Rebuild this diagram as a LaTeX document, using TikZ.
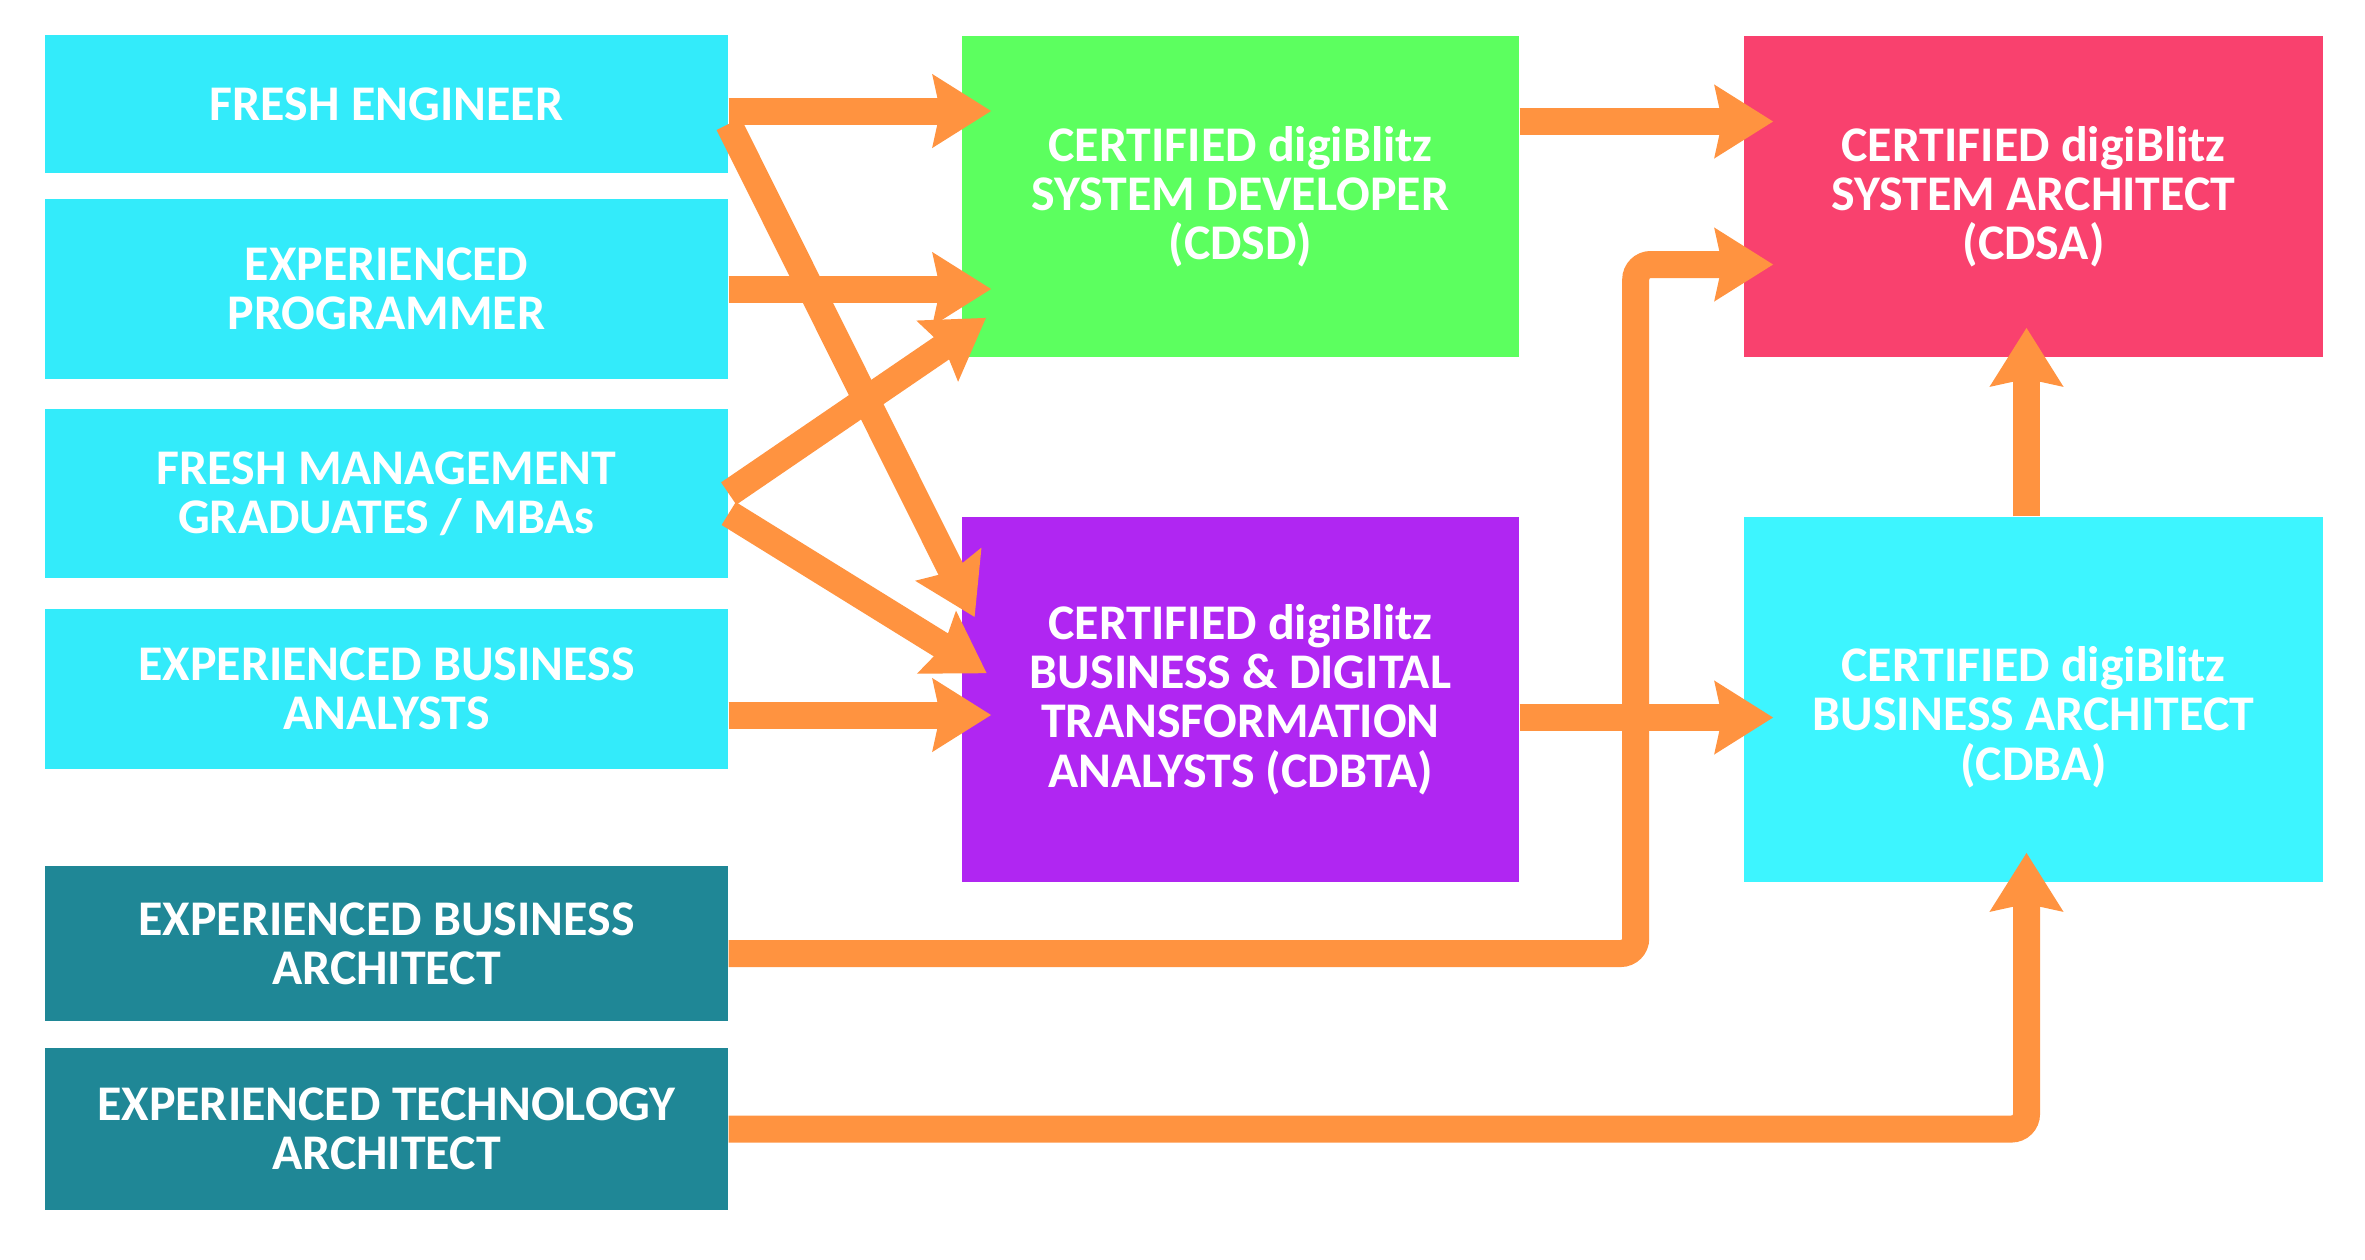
\documentclass[tikz,border=0pt]{standalone}
\usepackage{fontspec}
\setmainfont{Carlito}
\usetikzlibrary{arrows.meta}

\definecolor{entrycyan}{HTML}{33EBFA}
\definecolor{seniorteal}{HTML}{1F8796}
\definecolor{devgreen}{HTML}{5CFF5F}
\definecolor{analystpurple}{HTML}{B026F2}
\definecolor{archred}{HTML}{F9416E}
\definecolor{archcyan}{HTML}{3DF5FF}
\definecolor{floworange}{HTML}{FF9340}

\begin{document}
\begin{tikzpicture}
[ x=0.1mm, y=-0.1mm
, box/.style={rectangle, inner sep=0pt, text=white, align=center, font=\fontsize{14.2}{14}\selectfont\bfseries}
, entry/.style={box, fill=entrycyan, minimum width=68.3mm}
, senior/.style={box, fill=seniorteal, minimum width=68.3mm}
, cert/.style={box, minimum height=36.5mm}
, flow/.style={draw=floworange, line width=2.7mm, rounded corners=1.5mm, shorten >=-3mm, -{Stealth[length=5.8mm, width=7.1mm, inset=0.7mm]}}
]
\useasboundingbox (0,0) rectangle (2365,1259);

% Starting points:
\node (fe)   [entry, minimum height=13.8mm] at (386.5,104)  {FRESH ENGINEER};
\node (ep)   [entry, minimum height=18mm]   at (386.5,289)  {EXPERIENCED\\PROGRAMMER};
\node (fm)   [entry, minimum height=16.9mm] at (386.5,493.5) {FRESH MANAGEMENT\\GRADUATES / MBAs};
\node (eba)  [entry, minimum height=16mm]   at (386.5,689)  {EXPERIENCED BUSINESS\\ANALYSTS};
\node (ebar) [senior, minimum height=15.5mm] at (386.5,943.5) {EXPERIENCED BUSINESS\\ARCHITECT};
\node (eta)  [senior, minimum height=16.2mm] at (386.5,1129) {EXPERIENCED TECHNOLOGY\\ARCHITECT};

% Certifications:
\node (cdsd)  [cert, fill=devgreen, minimum width=55.7mm, minimum height=32.1mm] at (1240.5,196.5) {CERTIFIED digiBlitz\\SYSTEM DEVELOPER\\(CDSD)};
\node (cdbta) [cert, fill=analystpurple, minimum width=55.7mm] at (1240.5,699.5) {CERTIFIED digiBlitz\\BUSINESS \& DIGITAL\\TRANSFORMATION\\ANALYSTS (CDBTA)};
\node (cdsa)  [cert, fill=archred, minimum width=57.9mm, minimum height=32.1mm] at (2033.5,196.5) {CERTIFIED digiBlitz\\SYSTEM ARCHITECT\\(CDSA)};
\node (cdba)  [cert, fill=archcyan, minimum width=57.9mm] at (2033.5,699.5) {\rule{0pt}{20pt}CERTIFIED digiBlitz\\BUSINESS ARCHITECT\\(CDBA)};

% Paths:
\draw [flow] ([yshift=-0.7mm]fe.east) -- ([yshift=-0.7mm]fe.east -| cdsd.west);
\draw [flow] (ep.east) -- (ep.east -| cdsd.west);
\draw [flow] (fm.east) -- ([yshift=2.3mm]cdsd.south west);
\draw [flow] ([yshift=-2mm]fe.east) -- ([yshift=-7.4mm]cdbta.north west);
\draw [flow] ([yshift=-2mm]fm.east) -- ([yshift=4.2mm]cdbta.west);
\draw [flow] ([yshift=-2.6mm]eba.east) -- ([yshift=-2.6mm]eba.east -| cdbta.west);
\draw [flow] ([yshift=7.5mm]cdsd.east) -- ([yshift=7.5mm]cdsd.east -| cdsa.west);
\draw [flow] ([yshift=-1.8mm]cdbta.east) -- ([yshift=-1.8mm]cdbta.east -| cdba.west);
\draw [flow] ([yshift=-1mm]ebar.east) -- ++(907,0) |- ([yshift=-6.8mm]cdsa.west);
\draw [flow] (eta.east) -| ([xshift=-0.7mm]cdba.south);
\draw [flow] ([xshift=-0.7mm]cdba.north) -- ([xshift=-0.7mm]cdsa.south);
\end{tikzpicture}
\end{document}
